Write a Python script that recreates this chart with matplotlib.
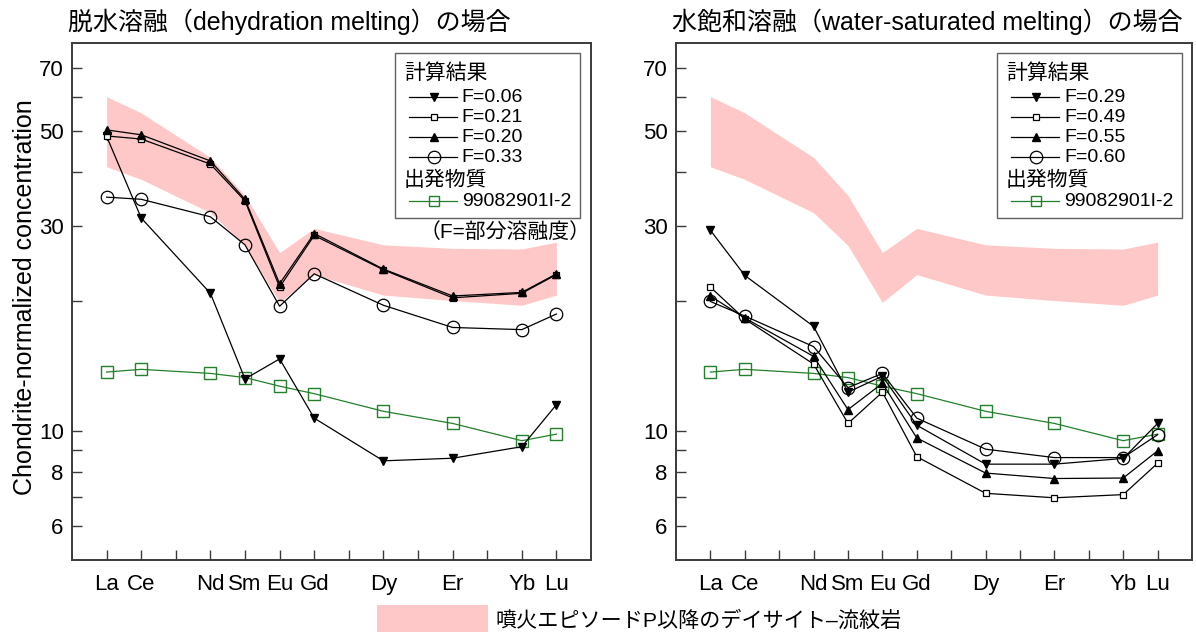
import matplotlib
matplotlib.use("Agg")
import matplotlib.pyplot as plt
from matplotlib.patches import Rectangle
from matplotlib.ticker import FixedLocator, NullFormatter, NullLocator

plt.rcParams['font.family'] = ['Liberation Sans', 'Noto Sans CJK JP', 'DejaVu Sans']

# REE positions (Pr, Tb, Ho, Tm are left as empty slots)
positions = [0, 1, 3, 4, 5, 6, 8, 10, 12, 13]
elements = ['La', 'Ce', 'Nd', 'Sm', 'Eu', 'Gd', 'Dy', 'Er', 'Yb', 'Lu']

# dacite-rhyolite range after eruptive episode P
band_upper = [60.0, 55.0, 43.3, 35.3, 26.0, 29.6, 27.1, 26.6, 26.5, 27.5]
band_lower = [41.2, 38.5, 32.2, 27.0, 19.9, 23.1, 20.7, 20.1, 19.6, 20.7]

# starting material 99082901I-2
start = [13.7, 13.9, 13.6, 13.3, 12.7, 12.2, 11.1, 10.4, 9.48, 9.82]

# dehydration melting results
dh_f006 = [48.5, 31.3, 20.9, 13.2, 14.7, 10.7, 8.51, 8.63, 9.18, 11.5]
dh_f021 = [48.6, 47.8, 41.8, 34.3, 21.6, 28.5, 23.7, 20.4, 20.9, 23.1]
dh_f020 = [50.2, 48.9, 42.5, 34.6, 22.0, 28.8, 23.8, 20.6, 21.0, 23.2]
dh_f033 = [35.0, 34.6, 31.5, 27.1, 19.5, 23.2, 19.6, 17.4, 17.2, 18.7]

# water-saturated melting results
ws_f029 = [29.3, 23.0, 17.5, 12.3, 13.4, 10.3, 8.36, 8.36, 8.62, 10.4]
ws_f049 = [21.6, 18.2, 14.3, 10.4, 12.3, 8.70, 7.15, 6.98, 7.10, 8.40]
ws_f055 = [20.6, 18.3, 14.9, 11.2, 12.9, 9.62, 7.97, 7.74, 7.76, 8.98]
ws_f060 = [20.0, 18.5, 15.7, 12.6, 13.6, 10.7, 9.06, 8.66, 8.66, 9.79]

dh_labels = ['F=0.06', 'F=0.21', 'F=0.20', 'F=0.33']
ws_labels = ['F=0.29', 'F=0.49', 'F=0.55', 'F=0.60']

PINK = '#ffc8c8'
GREEN = '#23802a'
FRAME = '#3a3a3a'

styles = [
    dict(marker='v', ms=5.5, mfc='black', mec='black'),
    dict(marker='s', ms=4.2, mfc='white', mec='black', mew=0.9),
    dict(marker='^', ms=5.5, mfc='black', mec='black'),
    dict(marker='o', ms=9, mfc='none', mec='black', mew=0.9),
]
start_style = dict(marker='s', ms=8.5, mfc='none', mec=GREEN, mew=1.0)

W, H = 1196, 632
fig = plt.figure(figsize=(W / 100, H / 100), dpi=100)


def add_panel(left, right, title, series, labels, note=False):
    ax = fig.add_axes([left / W, (H - 560) / H, (right - left) / W, 517 / H])
    ax.fill_between(positions, band_lower, band_upper, color=PINK, lw=0, zorder=1)
    for vals, st in zip(series, styles):
        ax.plot(positions, vals, color='black', lw=0.9, zorder=3, **st)
    ax.plot(positions, start, color=GREEN, lw=0.9, zorder=2, **start_style)

    ax.set_yscale('log')
    ax.set_ylim(5, 80)
    ax.set_xlim(-1, 14)
    ax.yaxis.set_major_locator(FixedLocator([6, 8, 10, 30, 50, 70]))
    ax.yaxis.set_minor_locator(FixedLocator([7, 9, 20, 40, 60]))
    ax.yaxis.set_minor_formatter(NullFormatter())
    ax.set_yticklabels(['6', '8', '10', '30', '50', '70'])
    ax.set_xticks(range(14))
    ax.set_xticklabels(['' if i not in positions else elements[positions.index(i)]
                        for i in range(14)])
    ax.xaxis.set_minor_locator(NullLocator())
    ax.tick_params(which='both', direction='in', length=7, width=1.0,
                   color=FRAME, labelsize=16, top=False, right=False)
    ax.tick_params(axis='x', pad=10)
    ax.tick_params(axis='y', pad=6)
    for sp in ax.spines.values():
        sp.set_color(FRAME)
        sp.set_linewidth(1.4)

    ax.text(-0.008, 1.041, title, transform=ax.transAxes, fontsize=18,
            ha='left', va='center')

    # legend box drawn in pixel offsets from its top-left corner
    wpx, hpx = right - left, 517

    def fx(px):
        return (px - left) / wpx

    def fy(py):
        return (560 - py) / hpx

    bx = left + (right - left) * 0.622
    ax.add_patch(Rectangle((fx(bx), fy(218)), 185 / wpx, 165 / hpx,
                           transform=ax.transAxes, fc='white', ec='#606060',
                           lw=1.0, zorder=5))
    ax.text(fx(bx + 9), fy(73), '計算結果', transform=ax.transAxes,
            fontsize=15, va='center', zorder=6)
    for k, (lab, st) in enumerate(zip(labels, styles)):
        yy = fy(97 + 20 * k)
        ax.plot([fx(bx + 14), fx(bx + 62)], [yy, yy], color='black', lw=0.9,
                transform=ax.transAxes, zorder=6)
        ax.plot([fx(bx + 39)], [yy], color='black', transform=ax.transAxes,
                zorder=7, **st)
        ax.text(fx(bx + 67), yy, lab, transform=ax.transAxes, fontsize=14,
                va='center', zorder=6)
    ax.text(fx(bx + 9), fy(180), '出発物質', transform=ax.transAxes,
            fontsize=15, va='center', zorder=6)
    yy = fy(201)
    ax.plot([fx(bx + 14), fx(bx + 62)], [yy, yy], color=GREEN, lw=0.9,
            transform=ax.transAxes, zorder=6)
    ax.plot([fx(bx + 39)], [yy], color=GREEN, transform=ax.transAxes,
            zorder=7, **dict(start_style, ms=7.5))
    ax.text(fx(bx + 67), yy, '99082901I-2', transform=ax.transAxes,
            fontsize=14, va='center', zorder=6)
    if note:
        ax.text(fx(bx + 196), fy(232), '（F=部分溶融度）', transform=ax.transAxes,
                fontsize=15, ha='right', va='center', zorder=6)
    return ax


ax1 = add_panel(72, 591, '脱水溶融（dehydration melting）の場合',
                [dh_f006, dh_f021, dh_f020, dh_f033], dh_labels, note=True)
ax2 = add_panel(676, 1192, '水飽和溶融（water-saturated melting）の場合',
                [ws_f029, ws_f049, ws_f055, ws_f060], ws_labels)

fig.text(25 / W, 1 - 297 / H, 'Chondrite-normalized concentration',
         rotation=90, ha='center', va='center', fontsize=18)

# range legend at the bottom
fig.patches.append(Rectangle((377 / W, 0), 111 / W, 27 / H,
                             transform=fig.transFigure, fc=PINK, ec='none'))
fig.text(495 / W, 1 - 620 / H, '噴火エピソードP以降のデイサイト–流紋岩',
         ha='left', va='center', fontsize=15.2)

fig.savefig('out.png', dpi=100)
